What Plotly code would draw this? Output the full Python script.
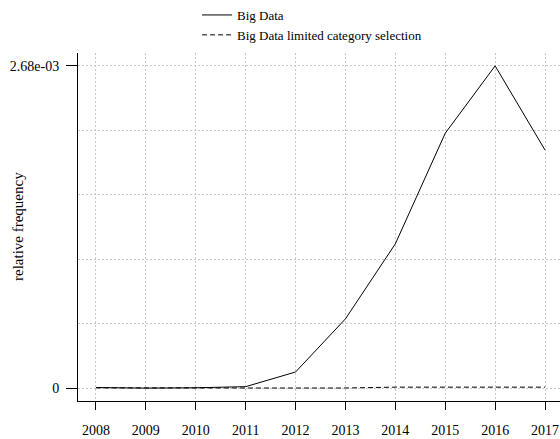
import plotly.graph_objects as go

years = [2008, 2009, 2010, 2011, 2012, 2013, 2014, 2015, 2016, 2017]
big_data = [5e-6, 0.0, 3e-6, 1.2e-5, 1.34e-4, 5.76e-4, 1.20e-3, 2.12e-3, 2.68e-3, 1.98e-3]
big_data_limited = [2e-6, 0.0, 1e-6, 1e-6, 1e-6, 1e-6, 8e-6, 8e-6, 8e-6, 8e-6]
series_names = ["Big Data", "Big Data limited category selection"]
ytick_vals = [0.0, 2.68e-3]
ytick_text = ["0", "2.68e-03"]
ymax = 2.68e-3

font_family = "Liberation Serif, Times New Roman, serif"
grid_col = "#c8c8c8"
grid_dash = "2px,2px"

fig = go.Figure()
fig.add_trace(go.Scatter(x=years, y=big_data, mode="lines", name=series_names[0],
                         line=dict(color="black", width=1)))
fig.add_trace(go.Scatter(x=years, y=big_data_limited, mode="lines", name=series_names[1],
                         line=dict(color="black", width=1, dash="5px,3px")))

pad = 0.04 * ymax
fig.update_layout(
    width=560, height=439,
    margin=dict(l=78, r=0, t=53, b=38),
    paper_bgcolor="white", plot_bgcolor="white",
    font=dict(family=font_family, size=14, color="black"),
    showlegend=True,
    legend=dict(x=0.247, y=1.01, xanchor="left", yanchor="top", yref="container",
                bgcolor="rgba(0,0,0,0)", font=dict(size=13, family=font_family),
                tracegroupgap=0, itemwidth=30),
    xaxis=dict(
        range=[2007.64, 2017.3],
        tickmode="array", tickvals=years, ticktext=[str(y) for y in years],
        showline=True, linecolor="black", linewidth=1,
        ticks="outside", ticklen=8, tickcolor="black", tickwidth=1,
        showgrid=True, gridcolor=grid_col, griddash=grid_dash, gridwidth=1,
        zeroline=False, ticklabelstandoff=8,
    ),
    yaxis=dict(
        range=[-pad, ymax + pad],
        tickmode="array", tickvals=ytick_vals, ticktext=ytick_text,
        showline=True, linecolor="black", linewidth=1,
        ticks="outside", ticklen=11, tickcolor="black", tickwidth=1,
        showgrid=True, gridcolor=grid_col, griddash=grid_dash, gridwidth=1,
        zeroline=False, ticklabelstandoff=4,
        minor=dict(tickmode="linear", tick0=0, dtick=ymax / 5, showgrid=True,
                   gridcolor=grid_col, griddash=grid_dash, gridwidth=1, ticks=""),
    ),
    annotations=[dict(text="relative frequency", x=-(78 - 18) / 482, y=0.5,
                      xref="paper", yref="paper",
                      showarrow=False, textangle=-90, font=dict(size=15, family=font_family),
                      xanchor="center", yanchor="middle")],
)
fig.write_html("out.html")
